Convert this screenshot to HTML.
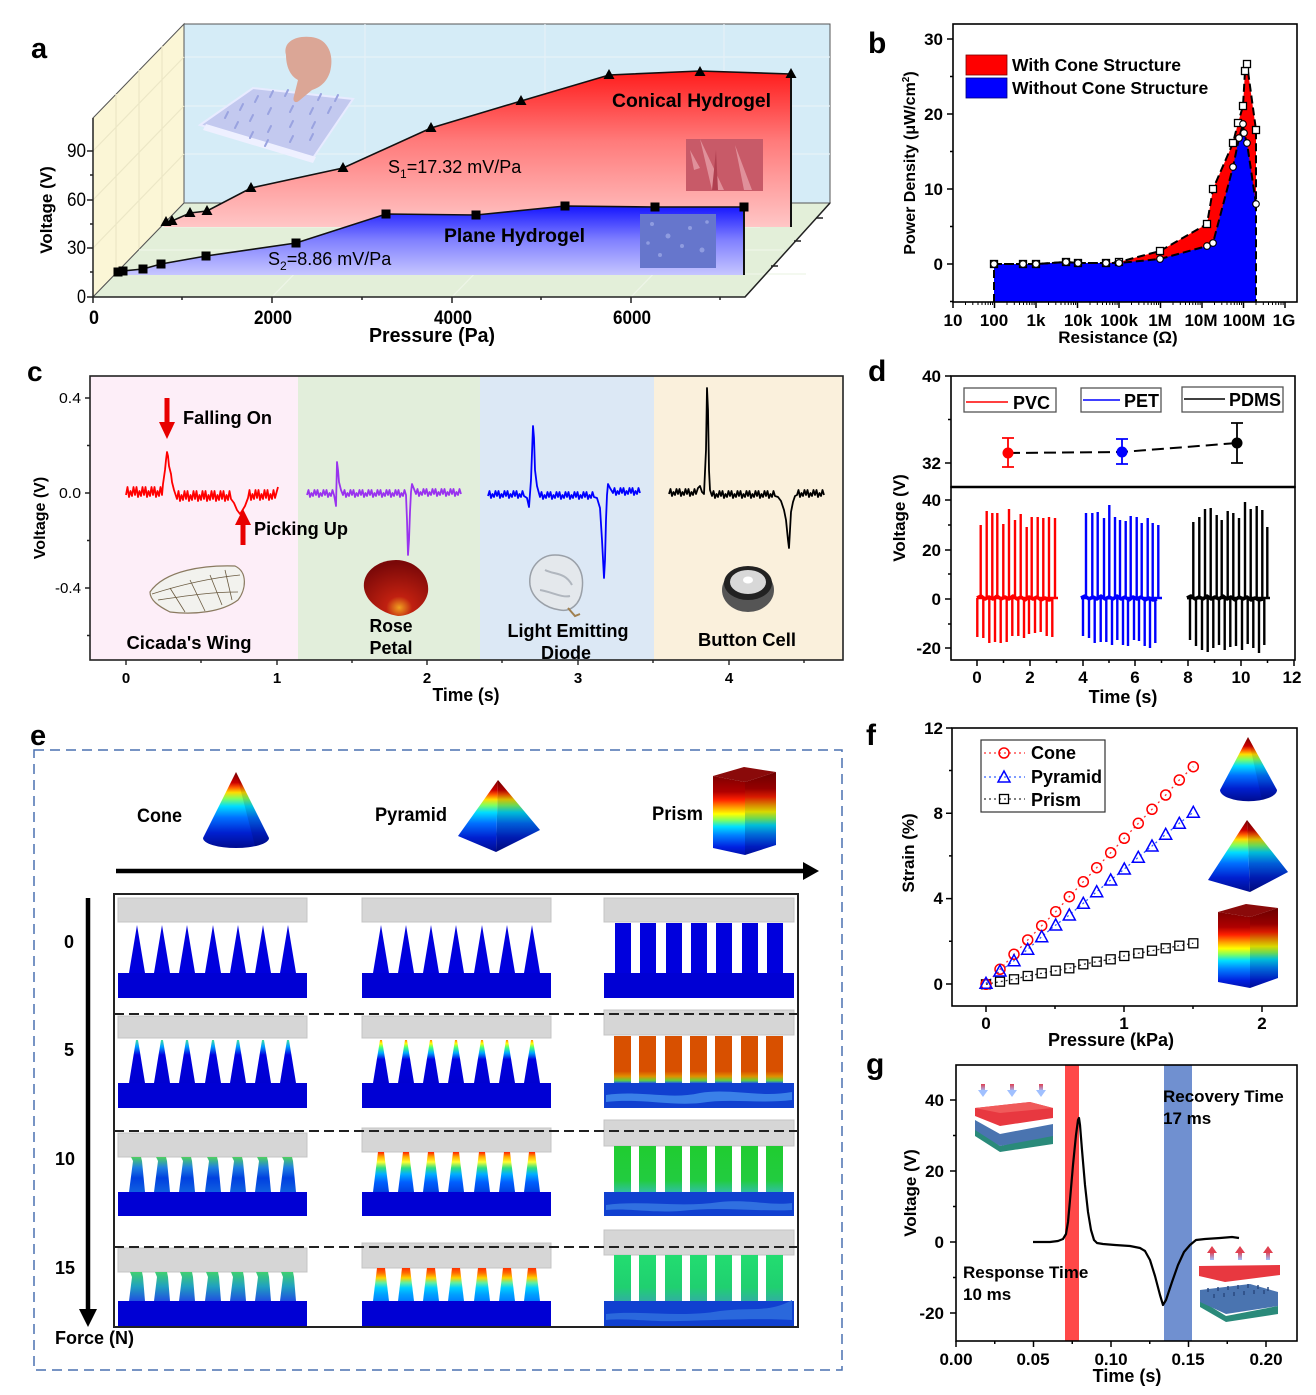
<!DOCTYPE html>
<html><head><meta charset="utf-8">
<style>
html,body{margin:0;padding:0;background:#fff;}
svg{display:block;font-family:"Liberation Sans",Arial,sans-serif;}
.b{font-weight:bold;}
</style></head>
<body>
<svg width="1316" height="1395" viewBox="0 0 1316 1395" xmlns="http://www.w3.org/2000/svg">
<defs>
  <linearGradient id="gRed" gradientUnits="userSpaceOnUse" x1="0" y1="70" x2="0" y2="227">
    <stop offset="0" stop-color="#ff1a1a"/><stop offset="0.45" stop-color="#ff7a7a"/><stop offset="1" stop-color="#ffc6c6"/>
  </linearGradient>
  <linearGradient id="gBlue" gradientUnits="userSpaceOnUse" x1="0" y1="205" x2="0" y2="275">
    <stop offset="0" stop-color="#1212ff"/><stop offset="0.5" stop-color="#8080ff"/><stop offset="1" stop-color="#c6c6ff"/>
  </linearGradient>
  <linearGradient id="gHeat" x1="0" y1="0" x2="0" y2="1">
    <stop offset="0" stop-color="#7a0000"/><stop offset="0.14" stop-color="#cc0000"/><stop offset="0.2" stop-color="#ff5500"/>
    <stop offset="0.27" stop-color="#ffdd00"/><stop offset="0.35" stop-color="#80ff60"/><stop offset="0.45" stop-color="#00ddff"/>
    <stop offset="0.6" stop-color="#0070ff"/><stop offset="0.8" stop-color="#0020d0"/><stop offset="1" stop-color="#000c90"/>
  </linearGradient>
  <linearGradient id="gPrism" x1="0" y1="0" x2="0" y2="1">
    <stop offset="0" stop-color="#800000"/><stop offset="0.2" stop-color="#b00000"/><stop offset="0.3" stop-color="#ff2000"/>
    <stop offset="0.4" stop-color="#ffa000"/><stop offset="0.48" stop-color="#ffff00"/><stop offset="0.56" stop-color="#80ff60"/>
    <stop offset="0.64" stop-color="#00e0ff"/><stop offset="0.75" stop-color="#0080ff"/><stop offset="0.9" stop-color="#0020e0"/><stop offset="1" stop-color="#0010b0"/>
  </linearGradient>
  <linearGradient id="gC5" x1="0" y1="0" x2="0" y2="1">
    <stop offset="0" stop-color="#40e0a0"/><stop offset="0.15" stop-color="#00a0ff"/><stop offset="0.35" stop-color="#0000e0"/><stop offset="1" stop-color="#0000d0"/>
  </linearGradient>
  <linearGradient id="gP5" x1="0" y1="0" x2="0" y2="1">
    <stop offset="0" stop-color="#ff8800"/><stop offset="0.08" stop-color="#ffff00"/><stop offset="0.18" stop-color="#40ff80"/>
    <stop offset="0.3" stop-color="#00aaff"/><stop offset="0.45" stop-color="#0000e0"/><stop offset="1" stop-color="#0000d0"/>
  </linearGradient>
  <linearGradient id="gP10" x1="0" y1="0" x2="0" y2="1">
    <stop offset="0" stop-color="#ff2000"/><stop offset="0.12" stop-color="#ffaa00"/><stop offset="0.25" stop-color="#ffff30"/>
    <stop offset="0.4" stop-color="#30e080"/><stop offset="0.55" stop-color="#00b0ff"/><stop offset="0.75" stop-color="#0060ff"/><stop offset="1" stop-color="#0040e0"/>
  </linearGradient>
  <linearGradient id="gP15" x1="0" y1="0" x2="0" y2="1">
    <stop offset="0" stop-color="#ff3000"/><stop offset="0.15" stop-color="#ff6a00"/><stop offset="0.3" stop-color="#ffd000"/>
    <stop offset="0.45" stop-color="#60f0a0"/><stop offset="0.6" stop-color="#00d0ff"/><stop offset="0.8" stop-color="#00a0ff"/><stop offset="1" stop-color="#0080ff"/>
  </linearGradient>
  <linearGradient id="gC10" x1="0" y1="0" x2="0" y2="1">
    <stop offset="0" stop-color="#50d060"/><stop offset="0.3" stop-color="#2080e0"/><stop offset="0.6" stop-color="#0040e0"/><stop offset="1" stop-color="#1060e0"/>
  </linearGradient>
  <linearGradient id="gC15" x1="0" y1="0" x2="0" y2="1">
    <stop offset="0" stop-color="#40d070"/><stop offset="0.5" stop-color="#20a0c0"/><stop offset="1" stop-color="#2050e0"/>
  </linearGradient>
  <linearGradient id="gR5" x1="0" y1="0" x2="0" y2="1">
    <stop offset="0" stop-color="#d85000"/><stop offset="0.75" stop-color="#d85000"/><stop offset="0.86" stop-color="#e09000"/><stop offset="0.95" stop-color="#60d040"/><stop offset="1" stop-color="#2060e0"/>
  </linearGradient>
  <linearGradient id="gR10" x1="0" y1="0" x2="0" y2="1">
    <stop offset="0" stop-color="#20cc30"/><stop offset="0.75" stop-color="#22cc40"/><stop offset="1" stop-color="#30c0a0"/>
  </linearGradient>
  <linearGradient id="gR15" x1="0" y1="0" x2="0" y2="1">
    <stop offset="0" stop-color="#22dd70"/><stop offset="0.7" stop-color="#20d070"/><stop offset="1" stop-color="#30b0a0"/>
  </linearGradient>
  <linearGradient id="gArrDn" x1="0" y1="0" x2="0" y2="1">
    <stop offset="0" stop-color="#e04050"/><stop offset="1" stop-color="#a0c0ff"/>
  </linearGradient>
  <linearGradient id="gArrUp" x1="0" y1="1" x2="0" y2="0">
    <stop offset="0" stop-color="#a0c0ff"/><stop offset="1" stop-color="#e04050"/>
  </linearGradient>
  <radialGradient id="gPetal" cx="0.55" cy="0.85" r="0.8">
    <stop offset="0" stop-color="#f0a020"/><stop offset="0.25" stop-color="#c02010"/><stop offset="1" stop-color="#7a0808"/>
  </radialGradient>
  <path id="tri" d="M0,-6 L5.5,4 L-5.5,4 Z" fill="#000"/>
  <rect id="sq" x="-4.5" y="-4.5" width="9" height="9" fill="#000"/>
  <rect id="wsq" x="-3.5" y="-3.5" width="7" height="7" fill="#fff" stroke="#000" stroke-width="1.3"/>
  <circle id="wci" r="3.3" fill="#fff" stroke="#000" stroke-width="1.1"/>
  <circle id="fci" r="5" fill="none" stroke="#ff0000" stroke-width="1.5"/>
  <path id="ftr" d="M0,-6 L6,5 L-6,5 Z" fill="none" stroke="#0000ff" stroke-width="1.5"/>
  <rect id="fsq" x="-4.5" y="-4.5" width="9" height="9" fill="none" stroke="#000" stroke-width="1.3"/>
  <path id="sp0" d="M-8,48 L0,0 L8,48 Z" fill="#0000dd"/>
  <rect id="pl0" x="0" y="0" width="16" height="50" fill="#0000dd"/>
  <path id="c5" d="M-8,43 L-1,0 L1,0 L8,43 Z" fill="url(#gC5)"/>
  <path id="p5" d="M-8,43 L-1,0 L1,0 L8,43 Z" fill="url(#gP5)"/>
  <rect id="r5" x="0" y="0" width="17" height="47" fill="url(#gR5)"/>
  <path id="c10" d="M-8,35 L-4,4 L-6,0 L4,0 L5,4 L8,35 Z" fill="url(#gC10)"/>
  <path id="p10" d="M-8,40 L-3,0 L3,0 L8,40 Z" fill="url(#gP10)"/>
  <rect id="r10" x="0" y="0" width="17" height="46" fill="url(#gR10)"/>
  <path id="c15" d="M-8,29 L-5,5 L-7,0 L5,0 L6,5 L8,29 Z" fill="url(#gC15)"/>
  <path id="p15" d="M-8,33 L-4,0 L4,0 L8,33 Z" fill="url(#gP15)"/>
  <rect id="r15" x="0" y="0" width="17" height="46" fill="url(#gR15)"/>
</defs>

<!-- ================= PANEL A ================= -->
<text x="31" y="58" font-size="29" class="b">a</text>
<rect x="184" y="24" width="646" height="179" fill="#d5ecf7" stroke="#555" stroke-width="1"/>
<g stroke="#e6f1f7" stroke-width="1.2">
  <path d="M365,24V203M545,24V203M724,24V203M184,57H830M184,106H830M184,154H830"/>
</g>
<polygon points="93,297 93,118 184,24 184,203" fill="#fbf6d6" stroke="#555" stroke-width="1"/>
<g stroke="#ece7c6" stroke-width="1.2" fill="none">
  <path d="M93,248L184,154M93,200L184,106M93,151L184,57M116,274V94M139,250V70M162,226V46"/>
</g>
<polygon points="93,297 184,203 830,203 745,297" fill="#e3efd9" stroke="#555" stroke-width="1"/>
<g stroke="#eef5e8" stroke-width="1.2" fill="none">
  <path d="M272,297L363,203M452,297L543,203M631,297L722,203M116,274H806M139,250H784M162,227H760"/>
</g>
<polygon points="200,125 253,88 353,99 313,158" fill="#c3c9ef" stroke="#e8ebff" stroke-width="2"/>
<polygon points="203,130 313,163 316,157 206,124" fill="#eef0ff"/>
<g stroke="#9aa3e0" stroke-width="2" stroke-linecap="round">
  <path d="M225,118l3,-6M240,110l3,-6M255,102l3,-6M270,97l3,-6M285,96l3,-6M300,98l3,-6M318,100l3,-6M335,101l3,-6M235,128l3,-6M250,121l3,-6M268,114l3,-6M290,112l3,-6M310,114l3,-6M328,113l3,-6M250,138l3,-6M268,132l3,-6M290,127l3,-6M312,128l3,-6M265,146l3,-6M290,142l3,-6M310,140l3,-6"/>
</g>
<path d="M286,55 C282,40 300,34 316,38 C330,42 334,58 330,72 C326,84 318,88 312,90 L300,100 C296,104 292,102 294,96 L298,80 C290,76 286,66 286,55 Z" fill="#dba696"/>
<polygon points="164,227 166,222 172,221 190,213 207,211 251,188 343,168 431,128 521,101 609,75 700,71 791,74 791,227" fill="url(#gRed)"/>
<line x1="791" y1="74" x2="791" y2="227" stroke="#111" stroke-width="2"/>
<polyline points="166,222 172,221 190,213 207,211 251,188 343,168 431,128 521,101 609,75 700,71 791,74" fill="none" stroke="#111" stroke-width="1.6"/>
<use href="#tri" x="166" y="222"/><use href="#tri" x="172" y="221"/><use href="#tri" x="190" y="213"/><use href="#tri" x="207" y="211"/>
<use href="#tri" x="251" y="188"/><use href="#tri" x="343" y="168"/><use href="#tri" x="431" y="128"/><use href="#tri" x="521" y="101"/>
<use href="#tri" x="609" y="75"/><use href="#tri" x="700" y="72"/><use href="#tri" x="791" y="74"/>
<rect x="686" y="139" width="77" height="52" fill="#c85a68"/>
<path d="M700,139 L712,190 L724,190 Z M735,145 L744,190 L752,190 Z M690,150 L694,170 L700,168 Z" fill="#e0909a"/>
<path d="M716,150 L718,190 L712,190 Z" fill="#b04050"/>
<polygon points="116,275 118,272 122,271 143,269 161,264 206,256 296,243 386,214 476,215 565,206 655,207 744,207 744,275" fill="url(#gBlue)"/>
<line x1="744" y1="207" x2="744" y2="275" stroke="#111" stroke-width="2"/>
<polyline points="118,272 122,271 143,269 161,264 206,256 296,243 386,214 476,215 565,206 655,207 744,207" fill="none" stroke="#111" stroke-width="1.6"/>
<use href="#sq" x="118" y="272"/><use href="#sq" x="123" y="271"/><use href="#sq" x="143" y="269"/><use href="#sq" x="161" y="264"/>
<use href="#sq" x="206" y="256"/><use href="#sq" x="296" y="243"/><use href="#sq" x="386" y="214"/><use href="#sq" x="476" y="215"/>
<use href="#sq" x="565" y="206"/><use href="#sq" x="655" y="207"/><use href="#sq" x="744" y="207"/>
<rect x="640" y="214" width="76" height="54" fill="#6676cc"/>
<g fill="#8f9ce0"><circle cx="652" cy="224" r="2"/><circle cx="668" cy="236" r="2.5"/><circle cx="690" cy="228" r="2"/><circle cx="702" cy="250" r="2.5"/><circle cx="660" cy="255" r="2"/><circle cx="682" cy="246" r="2"/><circle cx="707" cy="222" r="1.8"/><circle cx="648" cy="243" r="1.8"/></g>
<g stroke="#222" stroke-width="1.5" fill="none">
  <path d="M93,118V297H745L830,203M745,297"/>
  <path d="M93,297h-6M93,248h-6M93,200h-6M93,151h-6M93,272h-3M93,224h-3M93,175h-3"/>
  <path d="M93,297v6M272,297v6M452,297v6M631,297v6M182,297v3M362,297v3M541,297v3M720,297v3"/>
  <path d="M816,218h7M794,241h7M771,266h7"/>
</g>
<g font-size="19" text-anchor="end">
  <text x="86" y="303" textLength="9" lengthAdjust="spacingAndGlyphs">0</text>
  <text x="86" y="254" textLength="19" lengthAdjust="spacingAndGlyphs">30</text>
  <text x="86" y="206" textLength="19" lengthAdjust="spacingAndGlyphs">60</text>
  <text x="86" y="157" textLength="19" lengthAdjust="spacingAndGlyphs">90</text>
</g>
<g font-size="19" text-anchor="middle" class="b">
  <text x="94" y="324" textLength="10" lengthAdjust="spacingAndGlyphs">0</text>
  <text x="273" y="324" textLength="38" lengthAdjust="spacingAndGlyphs">2000</text>
  <text x="453" y="324" textLength="38" lengthAdjust="spacingAndGlyphs">4000</text>
  <text x="632" y="324" textLength="38" lengthAdjust="spacingAndGlyphs">6000</text>
</g>
<text x="432" y="342" font-size="20" class="b" text-anchor="middle" textLength="126" lengthAdjust="spacingAndGlyphs">Pressure (Pa)</text>
<text transform="translate(52,210) rotate(-90)" font-size="17" class="b" text-anchor="middle">Voltage (V)</text>
<text x="612" y="107" font-size="19" class="b" textLength="159" lengthAdjust="spacingAndGlyphs">Conical Hydrogel</text>
<text x="444" y="242" font-size="19" class="b" textLength="141" lengthAdjust="spacingAndGlyphs">Plane Hydrogel</text>
<text x="388" y="173" font-size="18">S<tspan font-size="12" dy="5">1</tspan><tspan dy="-5">=17.32 mV/Pa</tspan></text>
<text x="268" y="265" font-size="18">S<tspan font-size="12" dy="5">2</tspan><tspan dy="-5">=8.86 mV/Pa</tspan></text>

<!-- ================= PANEL B ================= -->
<text x="868" y="53" font-size="30" class="b">b</text>
<polygon points="994,302 994,264 1023,264 1036,264 1066,262 1078,263 1106,263 1119,262 1160,251 1207,224 1213,189 1233,143 1238,123 1243,106 1245,71 1247,64 1256,130 1256,302" fill="#ff0000"/>
<polygon points="994,302 994,264 1023,264 1036,264 1066,262 1078,263 1106,263 1119,263 1160,259 1207,246 1213,243 1233,167 1239,138 1243,124 1244,133 1247,143 1256,204 1256,302" fill="#0000ff"/>
<g fill="none" stroke="#000" stroke-width="2" stroke-dasharray="8,4">
  <polyline points="994,264 1023,264 1036,264 1066,262 1078,263 1106,263 1119,262 1160,251 1207,224 1213,189 1233,143 1238,123 1243,106 1245,71 1247,64 1256,130 1256,302"/>
  <polyline points="994,302 994,264 1023,264 1036,264 1066,262 1078,263 1106,263 1119,263 1160,259 1207,246 1213,243 1233,167 1239,138 1243,124 1244,133 1247,143 1256,204"/>
</g>
<use href="#wsq" x="994" y="264"/><use href="#wsq" x="1023" y="264"/><use href="#wsq" x="1036" y="264"/><use href="#wsq" x="1066" y="262"/>
<use href="#wsq" x="1078" y="263"/><use href="#wsq" x="1106" y="263"/><use href="#wsq" x="1119" y="262"/><use href="#wsq" x="1160" y="251"/>
<use href="#wsq" x="1207" y="224"/><use href="#wsq" x="1213" y="189"/><use href="#wsq" x="1233" y="143"/><use href="#wsq" x="1238" y="123"/>
<use href="#wsq" x="1243" y="106"/><use href="#wsq" x="1245" y="71"/><use href="#wsq" x="1247" y="64"/><use href="#wsq" x="1256" y="130"/>
<use href="#wci" x="994" y="264"/><use href="#wci" x="1023" y="264"/><use href="#wci" x="1036" y="264"/><use href="#wci" x="1066" y="262"/>
<use href="#wci" x="1078" y="263"/><use href="#wci" x="1106" y="263"/><use href="#wci" x="1119" y="263"/><use href="#wci" x="1160" y="259"/>
<use href="#wci" x="1207" y="246"/><use href="#wci" x="1213" y="243"/><use href="#wci" x="1233" y="167"/><use href="#wci" x="1239" y="138"/>
<use href="#wci" x="1243" y="124"/><use href="#wci" x="1244" y="133"/><use href="#wci" x="1247" y="143"/><use href="#wci" x="1256" y="204"/>
<rect x="953" y="24" width="344" height="278" fill="none" stroke="#000" stroke-width="1.6"/>
<g stroke="#000" stroke-width="1.5" fill="none">
  <path d="M953,264h-6M953,189h-6M953,114h-6M953,39h-6M953,301.5h-3M953,226.5h-3M953,151.5h-3M953,76.5h-3"/>
  <path d="M953,302v6M994.5,302v6M1036,302v6M1077.5,302v6M1119,302v6M1160.5,302v6M1202,302v6M1243.5,302v6M1285,302v6"/>
</g>
<path stroke="#000" stroke-width="1" d="M965.5,302v3M972.8,302v3M978,302v3M982,302v3M985.3,302v3M988.1,302v3M990.5,302v3M992.6,302v3M1007,302v3M1014.3,302v3M1019.5,302v3M1023.5,302v3M1026.8,302v3M1029.6,302v3M1032,302v3M1034.1,302v3M1048.5,302v3M1055.8,302v3M1061,302v3M1065,302v3M1068.3,302v3M1071.1,302v3M1073.5,302v3M1075.6,302v3M1090,302v3M1097.3,302v3M1102.5,302v3M1106.5,302v3M1109.8,302v3M1112.6,302v3M1115,302v3M1117.1,302v3M1131.5,302v3M1138.8,302v3M1144,302v3M1148,302v3M1151.3,302v3M1154.1,302v3M1156.5,302v3M1158.6,302v3M1173,302v3M1180.3,302v3M1185.5,302v3M1189.5,302v3M1192.8,302v3M1195.6,302v3M1198,302v3M1200.1,302v3M1214.5,302v3M1221.8,302v3M1227,302v3M1231,302v3M1234.3,302v3M1237.1,302v3M1239.5,302v3M1241.6,302v3M1256,302v3M1263.3,302v3M1268.5,302v3M1272.5,302v3M1275.8,302v3M1278.6,302v3M1281,302v3M1283.1,302v3"/>
<g font-size="17" class="b" text-anchor="end">
  <text x="943" y="45">30</text><text x="943" y="120">20</text><text x="943" y="195">10</text><text x="943" y="270">0</text>
</g>
<g font-size="17" class="b" text-anchor="middle">
  <text x="953" y="326">10</text><text x="994" y="326">100</text><text x="1036" y="326">1k</text><text x="1078" y="326">10k</text>
  <text x="1119" y="326">100k</text><text x="1160" y="326">1M</text><text x="1201" y="326">10M</text><text x="1244" y="326">100M</text><text x="1284" y="326">1G</text>
</g>
<text x="1118" y="343" font-size="17" class="b" text-anchor="middle">Resistance (Ω)</text>
<text transform="translate(915,163) rotate(-90)" font-size="16" class="b" text-anchor="middle">Power Density (μW/cm<tspan font-size="10" dy="-6">2</tspan><tspan dy="6">)</tspan></text>
<rect x="966" y="55" width="41" height="20" fill="#ff0000" stroke="#7a0000" stroke-width="0.8"/>
<rect x="966" y="78" width="41" height="20" fill="#0000ff" stroke="#00007a" stroke-width="0.8"/>
<text x="1012" y="71" font-size="17.5" class="b">With Cone Structure</text>
<text x="1012" y="94" font-size="17.5" class="b">Without Cone Structure</text>

<!-- ================= PANEL C ================= -->
<text x="27" y="381" font-size="28" class="b">c</text>
<rect x="90" y="376" width="208" height="284" fill="#fdeef8"/>
<rect x="298" y="376" width="182" height="284" fill="#e2eedb"/>
<rect x="480" y="376" width="174" height="284" fill="#dce8f5"/>
<rect x="654" y="376" width="189" height="284" fill="#faf0dc"/>
<rect x="90" y="376" width="753" height="284" fill="none" stroke="#222" stroke-width="1.6"/>
<g stroke="#222" stroke-width="1.4">
  <path d="M90,398h-5M90,493h-5M90,588h-5M90,445.5h-3M90,540.5h-3M90,635.5h-3"/>
  <path d="M126,660v5M277,660v5M427,660v5M578,660v5M729,660v5M201,660v3M352,660v3M502,660v3M653,660v3M804,660v3"/>
</g>
<g font-size="15" text-anchor="end">
  <text x="81" y="403" textLength="22" lengthAdjust="spacingAndGlyphs">0.4</text><text x="81" y="498" textLength="22" lengthAdjust="spacingAndGlyphs">0.0</text><text x="81" y="593" textLength="26" lengthAdjust="spacingAndGlyphs">-0.4</text>
</g>
<g font-size="15" class="b" text-anchor="middle">
  <text x="126" y="683">0</text><text x="277" y="683">1</text><text x="427" y="683">2</text><text x="578" y="683">3</text><text x="729" y="683">4</text>
</g>
<text x="466" y="701" font-size="18" class="b" text-anchor="middle" textLength="67" lengthAdjust="spacingAndGlyphs">Time (s)</text>
<text transform="translate(45,518) rotate(-90)" font-size="16" class="b" text-anchor="middle">Voltage (V)</text>
<g fill="none" stroke-width="1.8" stroke-linejoin="round">
<path stroke="#ff0000" d="M126,495 l1.5,-8 1.5,10 1.5,-6 1.5,5 1.5,-9 1.5,8 1.5,-8 1.5,10 1.5,-6 1.5,5 1.5,-9 1.5,8 1.5,-8 1.5,10 1.5,-6 1.5,5 1.5,-9 1.5,8 1.5,-8 1.5,10 1.5,-6 1.5,5 1.5,-9 1.5,8 L163,484 165,470 166,460 167,452 168,456 169,466 171,474 172,482 174,490 177,499 l1.5,-8 1.5,10 1.5,-6 1.5,5 1.5,-9 1.5,8 1.5,-8 1.5,10 1.5,-6 1.5,5 1.5,-9 1.5,8 1.5,-8 1.5,10 1.5,-6 1.5,5 1.5,-9 1.5,8 1.5,-8 1.5,10 1.5,-6 1.5,5 1.5,-9 1.5,8 1.5,-8 1.5,10 1.5,-6 1.5,5 1.5,-9 1.5,8 1.5,-8 1.5,10 1.5,-6 1.5,5 1.5,-9 1.5,8 L234,503 237,510 240,514 242,511 245,506 248,498 l1.5,-8 1.5,10 1.5,-6 1.5,5 1.5,-9 1.5,8 1.5,-8 1.5,10 1.5,-6 1.5,5 1.5,-9 1.5,8 1.5,-8 1.5,10 1.5,-6 1.5,5 1.5,-9 1.5,8 L278,487"/>
<path stroke="#9933ee" d="M307,495 l1.5,-5 1.5,7 1.5,-4 1.5,3 1.5,-6 1.5,5 1.5,-5 1.5,7 1.5,-4 1.5,3 1.5,-6 1.5,5 1.5,-5 1.5,7 1.5,-4 1.5,3 1.5,-6 1.5,5 L335,500 336,506 337,462 338,470 339,482 341,490 343,495 l1.5,-5 1.5,7 1.5,-4 1.5,3 1.5,-6 1.5,5 1.5,-5 1.5,7 1.5,-4 1.5,3 1.5,-6 1.5,5 1.5,-5 1.5,7 1.5,-4 1.5,3 1.5,-6 1.5,5 1.5,-5 1.5,7 1.5,-4 1.5,3 1.5,-6 1.5,5 1.5,-5 1.5,7 1.5,-4 1.5,3 1.5,-6 1.5,5 1.5,-5 1.5,7 1.5,-4 1.5,3 1.5,-6 1.5,5 1.5,-5 1.5,7 1.5,-4 1.5,3 1.5,-6 1.5,5 L407,520 408,555 409,540 410,512 411,492 412,484 414,489 416,494 l1.5,-5 1.5,7 1.5,-4 1.5,3 1.5,-6 1.5,5 1.5,-5 1.5,7 1.5,-4 1.5,3 1.5,-6 1.5,5 1.5,-5 1.5,7 1.5,-4 1.5,3 1.5,-6 1.5,5 1.5,-5 1.5,7 1.5,-4 1.5,3 1.5,-6 1.5,5 1.5,-5 1.5,7 1.5,-4 1.5,3 1.5,-6 1.5,5"/>
<path stroke="#0000ff" d="M488,496 l1.5,-5 1.5,7 1.5,-4 1.5,3 1.5,-6 1.5,5 1.5,-5 1.5,7 1.5,-4 1.5,3 1.5,-6 1.5,5 1.5,-5 1.5,7 1.5,-4 1.5,3 1.5,-6 1.5,5 1.5,-5 1.5,7 1.5,-4 1.5,3 1.5,-6 1.5,5 L527,498 529,507 531,480 533,426 534,438 535,470 537,486 540,497 l1.5,-5 1.5,7 1.5,-4 1.5,3 1.5,-6 1.5,5 1.5,-5 1.5,7 1.5,-4 1.5,3 1.5,-6 1.5,5 1.5,-5 1.5,7 1.5,-4 1.5,3 1.5,-6 1.5,5 1.5,-5 1.5,7 1.5,-4 1.5,3 1.5,-6 1.5,5 1.5,-5 1.5,7 1.5,-4 1.5,3 1.5,-6 1.5,5 1.5,-5 1.5,7 1.5,-4 1.5,3 1.5,-6 1.5,5 L597,498 600,508 602,540 604,578 605,560 606,520 607,495 608,484 610,488 613,493 l1.5,-5 1.5,7 1.5,-4 1.5,3 1.5,-6 1.5,5 1.5,-5 1.5,7 1.5,-4 1.5,3 1.5,-6 1.5,5 1.5,-5 1.5,7 1.5,-4 1.5,3 1.5,-6 1.5,5"/>
<path stroke="#000000" d="M669,494 l1.5,-5 1.5,7 1.5,-4 1.5,3 1.5,-6 1.5,5 1.5,-5 1.5,7 1.5,-4 1.5,3 1.5,-6 1.5,5 1.5,-5 1.5,7 1.5,-4 1.5,3 1.5,-6 1.5,5 L698,488 700,486 702,492 704,494 706,450 707,388 708,410 709,470 710,490 712,496 l1.5,-5 1.5,7 1.5,-4 1.5,3 1.5,-6 1.5,5 1.5,-5 1.5,7 1.5,-4 1.5,3 1.5,-6 1.5,5 1.5,-5 1.5,7 1.5,-4 1.5,3 1.5,-6 1.5,5 1.5,-5 1.5,7 1.5,-4 1.5,3 1.5,-6 1.5,5 1.5,-5 1.5,7 1.5,-4 1.5,3 1.5,-6 1.5,5 1.5,-5 1.5,7 1.5,-4 1.5,3 1.5,-6 1.5,5 1.5,-5 1.5,7 1.5,-4 1.5,3 1.5,-6 1.5,5 L778,497 781,501 784,510 786,520 788,540 789,548 790,530 791,512 793,502 795,496 797,495 l1.5,-5 1.5,7 1.5,-4 1.5,3 1.5,-6 1.5,5 1.5,-5 1.5,7 1.5,-4 1.5,3 1.5,-6 1.5,5 1.5,-5 1.5,7 1.5,-4 1.5,3 1.5,-6 1.5,5"/>
</g>
<rect x="164.5" y="398" width="5" height="26" fill="#e80000"/>
<polygon points="159,422 175,422 167,439" fill="#e80000"/>
<rect x="240.5" y="523" width="5" height="22" fill="#e80000"/>
<polygon points="235,525 251,525 243,509" fill="#e80000"/>
<text x="183" y="424" font-size="18" class="b" textLength="89" lengthAdjust="spacingAndGlyphs">Falling On</text>
<text x="254" y="535" font-size="18" class="b" textLength="94" lengthAdjust="spacingAndGlyphs">Picking Up</text>
<path d="M150,592 C165,570 205,565 235,566 C248,572 246,590 238,600 C222,612 195,615 170,612 C158,606 150,600 150,592 Z" fill="#f2f2ee" stroke="#8a7a60" stroke-width="1.2"/>
<g stroke="#6a5a40" stroke-width="0.8" fill="none"><path d="M152,594 C180,585 210,578 240,575M158,600 C185,596 210,592 238,592M170,588 L185,612M190,580 L205,611M210,575 L222,605M225,570 L232,600"/></g>
<path d="M396,560 C415,560 430,575 428,592 C426,605 412,616 398,616 C384,614 366,603 364,588 C362,572 378,560 396,560 Z" fill="url(#gPetal)"/>
<path d="M555,555 C575,555 585,570 582,590 C580,605 570,612 560,610 C545,608 532,598 530,585 C528,568 540,555 555,555 Z" fill="#e4e8ec" stroke="#9aa0a8" stroke-width="1.5"/>
<path d="M545,570 C555,575 565,572 572,585 M540,590 C552,592 562,598 570,596" stroke="#b0b6be" stroke-width="2" fill="none"/>
<path d="M568,608 L575,616 L580,614" stroke="#a08050" stroke-width="2" fill="none"/>
<ellipse cx="748" cy="590" rx="26" ry="22" fill="#555"/>
<ellipse cx="748" cy="583" rx="24" ry="17" fill="#222"/>
<ellipse cx="748" cy="582" rx="18" ry="12" fill="#d8d8d8"/>
<ellipse cx="748" cy="580" rx="5" ry="3.5" fill="#fff"/>
<g font-size="18" class="b" text-anchor="middle">
  <text x="189" y="649" textLength="125" lengthAdjust="spacingAndGlyphs">Cicada's Wing</text>
  <text x="391" y="632" textLength="43" lengthAdjust="spacingAndGlyphs">Rose</text>
  <text x="391" y="654" textLength="43" lengthAdjust="spacingAndGlyphs">Petal</text>
  <text x="568" y="637" textLength="121" lengthAdjust="spacingAndGlyphs">Light Emitting</text>
  <text x="566" y="659" textLength="50" lengthAdjust="spacingAndGlyphs">Diode</text>
  <text x="747" y="646" textLength="98" lengthAdjust="spacingAndGlyphs">Button Cell</text>
</g>

<!-- ================= PANEL D ================= -->
<text x="868" y="381" font-size="30" class="b">d</text>
<rect x="951" y="376" width="344" height="111" fill="none" stroke="#000" stroke-width="1.6"/>
<rect x="951" y="487" width="344" height="173" fill="none" stroke="#000" stroke-width="1.6"/>
<line x1="951" y1="487" x2="1295" y2="487" stroke="#000" stroke-width="2.5"/>
<g stroke="#000" stroke-width="1.5">
  <path d="M951,376h-6M951,463h-6M951,419.5h-3"/>
  <path d="M951,500h-6M951,550h-6M951,599h-6M951,648h-6M951,525h-3M951,574h-3M951,624h-3"/>
  <path d="M977,660v6M1030,660v6M1083,660v6M1135,660v6M1188,660v6M1241,660v6M1294,660v6M1003.5,660v3M1056.5,660v3M1109,660v3M1161.5,660v3M1214.5,660v3M1267.5,660v3"/>
</g>
<g font-size="17" class="b" text-anchor="end">
  <text x="941" y="382">40</text><text x="941" y="469">32</text>
  <text x="941" y="506">40</text><text x="941" y="556">20</text><text x="941" y="605">0</text><text x="941" y="654">-20</text>
</g>
<g font-size="17" class="b" text-anchor="middle">
  <text x="977" y="683">0</text><text x="1030" y="683">2</text><text x="1083" y="683">4</text><text x="1135" y="683">6</text>
  <text x="1188" y="683">8</text><text x="1241" y="683">10</text><text x="1292" y="683">12</text>
</g>
<text x="1123" y="703" font-size="18" class="b" text-anchor="middle">Time (s)</text>
<text transform="translate(905,518) rotate(-90)" font-size="17" class="b" text-anchor="middle">Voltage (V)</text>
<rect x="964" y="388" width="92" height="24" fill="#fff" stroke="#555" stroke-width="1.3"/>
<line x1="966" y1="402" x2="1008" y2="402" stroke="#ff0000" stroke-width="1.5"/>
<text x="1013" y="409" font-size="18" class="b">PVC</text>
<rect x="1081" y="388" width="80" height="24" fill="#fff" stroke="#555" stroke-width="1.3"/>
<line x1="1083" y1="400" x2="1120" y2="400" stroke="#0000ff" stroke-width="1.5"/>
<text x="1124" y="407" font-size="18" class="b">PET</text>
<rect x="1182" y="387" width="101" height="25" fill="#fff" stroke="#555" stroke-width="1.3"/>
<line x1="1184" y1="399" x2="1225" y2="399" stroke="#000" stroke-width="1.5"/>
<text x="1229" y="406" font-size="18" class="b">PDMS</text>
<polyline points="1008,453 1122,452 1237,443" fill="none" stroke="#000" stroke-width="2" stroke-dasharray="12,6"/>
<g stroke-width="1.8" fill="none">
  <path stroke="#ff0000" d="M1008,438V467M1002,438h12M1002,467h12"/>
  <path stroke="#0000ff" d="M1122,439V464M1116,439h12M1116,464h12"/>
  <path stroke="#000" d="M1237,423V463M1231,423h12M1231,463h12"/>
</g>
<circle cx="1008" cy="453" r="5.5" fill="#ff0000"/>
<circle cx="1122" cy="452" r="5.5" fill="#0000ff"/>
<circle cx="1237" cy="443" r="5.5" fill="#000"/>
<g fill="none" stroke-width="2.4">
<path stroke="#ff0000" d="M977,598H1058M980.7,598V525M986.7,598V511M992.3,598V513M997.3,598V513M1003.3,598V524M1009,598V509M1015,598V520M1020.7,598V514M1026.7,598V527M1031.7,598V517M1037.7,598V517M1043.3,598V518M1049,598V517M1055,598V518M977.3,598V637M983.3,598V638M989.3,598V643M995,598V642M1000.7,598V643M1006.7,598V642M1012.3,598V636M1018.3,598V636M1024,598V638M1029,598V634M1035,598V633M1040.7,598V632M1046.7,598V636M1052.3,598V637"/>
<path stroke="#0000ff" d="M1081,598H1162M1086,598V513M1092.3,598V513M1097.7,598V512M1104,598V518M1109.3,598V505M1115,598V517M1120,598V520M1125.7,598V521M1130.7,598V516M1136.7,598V517M1141.7,598V523M1147.7,598V518M1152.7,598V523M1158.3,598V525M1083,598V636M1089,598V638M1094.7,598V643M1100.7,598V642M1106.3,598V642M1112,598V645M1117.3,598V640M1123,598V645M1128,598V646M1134,598V640M1139,598V641M1144.7,598V646M1150,598V648M1155.3,598V643"/>
<path stroke="#000" d="M1187,598H1270M1193.3,598V522M1199.3,598V517M1205,598V509M1210.7,598V508M1216.7,598V515M1221.7,598V520M1227.7,598V511M1233.3,598V513M1239,598V518M1245,598V502M1250.7,598V509M1256.7,598V506M1262.3,598V510M1267.3,598V527M1190,598V640M1196,598V646M1202,598V650M1207.7,598V652M1213.3,598V648M1219,598V645M1224.7,598V650M1230.3,598V647M1236,598V646M1242,598V650M1247.7,598V644M1253.3,598V648M1259,598V653M1264.3,598V645"/>
</g>
<g fill="none" stroke-width="3.5" stroke-linejoin="round">
  <path stroke="#ff0000" d="M977,598 l4,-2 4,3 4,-2 4,2 4,-3 4,3 4,-2 4,2 4,-3 4,3 4,-2 4,3 4,-3 4,2 4,-2 4,3 4,-2 4,2 4,-1"/>
  <path stroke="#0000ff" d="M1081,598 l4,-2 4,3 4,-2 4,2 4,-3 4,3 4,-2 4,2 4,-3 4,3 4,-2 4,3 4,-3 4,2 4,-2 4,3 4,-2 4,2 4,-1"/>
  <path stroke="#000" d="M1187,598 l4,-2 4,3 4,-2 4,2 4,-3 4,3 4,-2 4,2 4,-3 4,3 4,-2 4,3 4,-3 4,2 4,-2 4,3 4,-2 4,2 4,-1"/>
</g>

<!-- ================= PANEL E ================= -->
<text x="30" y="745" font-size="29" class="b">e</text>
<rect x="34" y="750" width="808" height="620" fill="none" stroke="#4a70b0" stroke-width="1.5" stroke-dasharray="10,6"/>
<text x="137" y="822" font-size="19" class="b" textLength="45" lengthAdjust="spacingAndGlyphs">Cone</text>
<text x="375" y="821" font-size="19" class="b" textLength="72" lengthAdjust="spacingAndGlyphs">Pyramid</text>
<text x="652" y="820" font-size="19" class="b" textLength="51" lengthAdjust="spacingAndGlyphs">Prism</text>
<path d="M236,772 L203,838 A33,10 0 0 0 269,838 Z" fill="url(#gHeat)"/>
<path d="M236,772 L255,846 A33,10 0 0 0 269,838 Z" fill="#000" opacity="0.12"/>
<path d="M498,780 L458,836 L496,852 Z" fill="url(#gHeat)"/>
<path d="M498,780 L496,852 L540,830 Z" fill="url(#gHeat)"/>
<path d="M498,780 L496,852 L540,830 Z" fill="#000" opacity="0.15"/>
<path d="M713,776 L745,782 L745,855 L713,848 Z" fill="url(#gPrism)"/>
<path d="M745,782 L776,772 L776,845 L745,855 Z" fill="url(#gPrism)"/>
<path d="M745,782 L776,772 L776,845 L745,855 Z" fill="#000" opacity="0.15"/>
<path d="M713,776 L745,782 L776,772 L744,767 Z" fill="#8a0a0a"/>
<line x1="116" y1="871" x2="806" y2="871" stroke="#000" stroke-width="4.5"/>
<polygon points="803,862 819,871 803,880" fill="#000"/>
<line x1="88" y1="898" x2="88" y2="1312" stroke="#000" stroke-width="4.5"/>
<polygon points="79,1309 88,1327 97,1309" fill="#000"/>
<rect x="114" y="894" width="684" height="433" fill="#fff" stroke="#222" stroke-width="2"/>
<g fill="#d6d6d6" stroke="#c4c4c4" stroke-width="1">
  <rect x="118" y="898" width="189" height="24"/><rect x="362" y="898" width="189" height="24"/><rect x="604" y="898" width="190" height="24"/>
</g>
<g fill="#0000d4">
  <rect x="118" y="973" width="189" height="25"/><rect x="362" y="973" width="189" height="25"/><rect x="604" y="973" width="190" height="25"/>
</g>
<g transform="translate(0,925)">
  <use href="#sp0" x="137"/><use href="#sp0" x="162"/><use href="#sp0" x="187"/><use href="#sp0" x="213"/><use href="#sp0" x="238"/><use href="#sp0" x="263"/><use href="#sp0" x="288"/>
  <use href="#sp0" x="381"/><use href="#sp0" x="406"/><use href="#sp0" x="431"/><use href="#sp0" x="456"/><use href="#sp0" x="482"/><use href="#sp0" x="507"/><use href="#sp0" x="532"/>
</g>
<g transform="translate(0,923)">
  <use href="#pl0" x="615"/><use href="#pl0" x="640"/><use href="#pl0" x="666"/><use href="#pl0" x="691"/><use href="#pl0" x="716"/><use href="#pl0" x="742"/><use href="#pl0" x="767"/>
</g>
<g fill="#d6d6d6" stroke="#c4c4c4" stroke-width="1">
  <rect x="118" y="1016" width="189" height="22"/><rect x="362" y="1016" width="189" height="22"/><rect x="604" y="1010" width="190" height="25"/>
</g>
<g fill="#0000d4">
  <rect x="118" y="1083" width="189" height="25"/><rect x="362" y="1083" width="189" height="25"/>
</g>
<rect x="604" y="1083" width="190" height="25" fill="#1040d0"/>
<path d="M606,1095 C640,1090 670,1100 700,1093 C730,1088 760,1098 792,1092 L792,1100 C760,1104 730,1098 700,1103 C670,1106 640,1098 606,1102 Z" fill="#3a80e8"/>
<g transform="translate(0,1040)">
  <use href="#c5" x="137"/><use href="#c5" x="162"/><use href="#c5" x="187"/><use href="#c5" x="213"/><use href="#c5" x="238"/><use href="#c5" x="263"/><use href="#c5" x="288"/>
  <use href="#p5" x="381"/><use href="#p5" x="406"/><use href="#p5" x="431"/><use href="#p5" x="456"/><use href="#p5" x="482"/><use href="#p5" x="507"/><use href="#p5" x="532"/>
</g>
<g transform="translate(0,1036)">
  <use href="#r5" x="614"/><use href="#r5" x="639"/><use href="#r5" x="665"/><use href="#r5" x="690"/><use href="#r5" x="715"/><use href="#r5" x="741"/><use href="#r5" x="766"/>
</g>
<g fill="#d6d6d6" stroke="#c4c4c4" stroke-width="1">
  <rect x="118" y="1133" width="189" height="24"/><rect x="362" y="1128" width="189" height="24"/><rect x="604" y="1120" width="190" height="26"/>
</g>
<g fill="#0000d4">
  <rect x="118" y="1192" width="189" height="24"/><rect x="362" y="1192" width="189" height="24"/>
</g>
<rect x="604" y="1192" width="190" height="24" fill="#1040d0"/>
<path d="M606,1205 C640,1200 680,1208 720,1202 C750,1199 770,1206 792,1203 L792,1210 C760,1212 720,1206 680,1211 C650,1213 630,1208 606,1210 Z" fill="#3070e0"/>
<g transform="translate(0,1157)">
  <use href="#c10" x="137"/><use href="#c10" x="162"/><use href="#c10" x="187"/><use href="#c10" x="213"/><use href="#c10" x="238"/><use href="#c10" x="263"/><use href="#c10" x="288"/>
</g>
<g transform="translate(0,1152)">
  <use href="#p10" x="381"/><use href="#p10" x="406"/><use href="#p10" x="431"/><use href="#p10" x="456"/><use href="#p10" x="482"/><use href="#p10" x="507"/><use href="#p10" x="532"/>
</g>
<g transform="translate(0,1146)">
  <use href="#r10" x="614"/><use href="#r10" x="639"/><use href="#r10" x="665"/><use href="#r10" x="690"/><use href="#r10" x="715"/><use href="#r10" x="741"/><use href="#r10" x="766"/>
</g>
<g fill="#d6d6d6" stroke="#c4c4c4" stroke-width="1">
  <rect x="118" y="1248" width="189" height="24"/><rect x="362" y="1243" width="189" height="25"/><rect x="604" y="1230" width="190" height="25"/>
</g>
<g fill="#0000d4">
  <rect x="118" y="1301" width="189" height="25"/><rect x="362" y="1301" width="189" height="25"/>
</g>
<rect x="604" y="1301" width="190" height="25" fill="#1040d0"/>
<path d="M606,1314 C640,1310 680,1318 720,1311 C750,1307 770,1313 792,1300 L792,1320 C760,1318 720,1320 680,1321 C650,1322 630,1318 606,1320 Z" fill="#2a68dc"/>
<g transform="translate(0,1272)">
  <use href="#c15" x="137"/><use href="#c15" x="162"/><use href="#c15" x="187"/><use href="#c15" x="213"/><use href="#c15" x="238"/><use href="#c15" x="263"/><use href="#c15" x="288"/>
</g>
<g transform="translate(0,1268)">
  <use href="#p15" x="381"/><use href="#p15" x="406"/><use href="#p15" x="431"/><use href="#p15" x="456"/><use href="#p15" x="482"/><use href="#p15" x="507"/><use href="#p15" x="532"/>
</g>
<g transform="translate(0,1255)">
  <use href="#r15" x="614"/><use href="#r15" x="639"/><use href="#r15" x="665"/><use href="#r15" x="690"/><use href="#r15" x="715"/><use href="#r15" x="741"/><use href="#r15" x="766"/>
</g>
<g stroke="#222" stroke-width="2" stroke-dasharray="10,5">
  <line x1="114" y1="1014" x2="798" y2="1014"/><line x1="114" y1="1131" x2="798" y2="1131"/><line x1="114" y1="1247" x2="798" y2="1247"/>
</g>
<g font-size="18" class="b" text-anchor="middle">
  <text x="69" y="948">0</text><text x="69" y="1056">5</text><text x="65" y="1165" textLength="20" lengthAdjust="spacingAndGlyphs">10</text><text x="65" y="1274" textLength="20" lengthAdjust="spacingAndGlyphs">15</text>
</g>
<text x="55" y="1344" font-size="18" class="b" textLength="79" lengthAdjust="spacingAndGlyphs">Force (N)</text>

<!-- ================= PANEL F ================= -->
<text x="866" y="745" font-size="30" class="b">f</text>
<rect x="952" y="728" width="345" height="278" fill="none" stroke="#000" stroke-width="1.6"/>
<g stroke="#000" stroke-width="1.5">
  <path d="M952,984h-6M952,898.6h-6M952,813.2h-6M952,728h-6M952,941.3h-3M952,855.9h-3M952,770.5h-3"/>
  <path d="M986,1006v6M1124,1006v6M1262,1006v6M1055,1006v3M1193,1006v3"/>
</g>
<g font-size="17" class="b" text-anchor="end">
  <text x="943" y="734">12</text><text x="943" y="819">8</text><text x="943" y="904">4</text><text x="943" y="990">0</text>
</g>
<g font-size="17" class="b" text-anchor="middle">
  <text x="986" y="1029">0</text><text x="1124" y="1029">1</text><text x="1262" y="1029">2</text>
</g>
<text x="1111" y="1046" font-size="18" class="b" text-anchor="middle">Pressure (kPa)</text>
<text transform="translate(914,853) rotate(-90)" font-size="17" class="b" text-anchor="middle">Strain (%)</text>
<g fill="none" stroke-width="1.3" stroke-dasharray="2,3">
  <polyline stroke="#ff3030" points="986,984.3 1000,969.3 1014,954.3 1027.7,940 1041.7,925.7 1055.7,911.7 1069.3,896.7 1083.3,881.7 1096.7,867.7 1110.7,852.7 1124.3,838.3 1138.3,823.3 1152,809.3 1165.7,795 1179.3,780 1193.3,766.7"/>
  <polyline stroke="#3060ff" points="986,983.3 1000,971 1014,960.7 1027.7,949.3 1041.7,936.7 1055.7,925 1069.3,915 1083.3,903.3 1096.7,891.7 1110.7,880 1124.3,869 1138.3,857.3 1152,846 1165.7,834.3 1179.3,823.3 1193.3,812.3"/>
  <polyline stroke="#333" points="986,984.3 1000,981.7 1014,979.3 1027.7,976 1041.7,973.3 1055.7,970.7 1069.3,968.3 1083.3,964.3 1096.7,961.7 1110.7,959.3 1124.3,956 1138.3,953.3 1152,950.7 1165.7,948.3 1179.3,945.7 1193.3,943.3"/>
</g>
<use href="#fsq" x="986" y="984.3"/><use href="#fsq" x="1000" y="981.7"/><use href="#fsq" x="1014" y="979.3"/><use href="#fsq" x="1027.7" y="976"/>
<use href="#fsq" x="1041.7" y="973.3"/><use href="#fsq" x="1055.7" y="970.7"/><use href="#fsq" x="1069.3" y="968.3"/><use href="#fsq" x="1083.3" y="964.3"/>
<use href="#fsq" x="1096.7" y="961.7"/><use href="#fsq" x="1110.7" y="959.3"/><use href="#fsq" x="1124.3" y="956"/><use href="#fsq" x="1138.3" y="953.3"/>
<use href="#fsq" x="1152" y="950.7"/><use href="#fsq" x="1165.7" y="948.3"/><use href="#fsq" x="1179.3" y="945.7"/><use href="#fsq" x="1193.3" y="943.3"/>
<use href="#fci" x="986" y="984.3"/><use href="#fci" x="1000" y="969.3"/><use href="#fci" x="1014" y="954.3"/><use href="#fci" x="1027.7" y="940"/>
<use href="#fci" x="1041.7" y="925.7"/><use href="#fci" x="1055.7" y="911.7"/><use href="#fci" x="1069.3" y="896.7"/><use href="#fci" x="1083.3" y="881.7"/>
<use href="#fci" x="1096.7" y="867.7"/><use href="#fci" x="1110.7" y="852.7"/><use href="#fci" x="1124.3" y="838.3"/><use href="#fci" x="1138.3" y="823.3"/>
<use href="#fci" x="1152" y="809.3"/><use href="#fci" x="1165.7" y="795"/><use href="#fci" x="1179.3" y="780"/><use href="#fci" x="1193.3" y="766.7"/>
<use href="#ftr" x="986" y="983.3"/><use href="#ftr" x="1000" y="971"/><use href="#ftr" x="1014" y="960.7"/><use href="#ftr" x="1027.7" y="949.3"/>
<use href="#ftr" x="1041.7" y="936.7"/><use href="#ftr" x="1055.7" y="925"/><use href="#ftr" x="1069.3" y="915"/><use href="#ftr" x="1083.3" y="903.3"/>
<use href="#ftr" x="1096.7" y="891.7"/><use href="#ftr" x="1110.7" y="880"/><use href="#ftr" x="1124.3" y="869"/><use href="#ftr" x="1138.3" y="857.3"/>
<use href="#ftr" x="1152" y="846"/><use href="#ftr" x="1165.7" y="834.3"/><use href="#ftr" x="1179.3" y="823.3"/><use href="#ftr" x="1193.3" y="812.3"/>
<rect x="981" y="740" width="124" height="72" fill="#fff" stroke="#333" stroke-width="1.2"/>
<g stroke-width="1.3" stroke-dasharray="2,3">
  <line x1="984" y1="753" x2="1025" y2="753" stroke="#ff3030"/>
  <line x1="984" y1="777" x2="1025" y2="777" stroke="#3060ff"/>
  <line x1="984" y1="799" x2="1025" y2="799" stroke="#333"/>
</g>
<use href="#fci" x="1004" y="753"/><use href="#ftr" x="1004" y="777"/><use href="#fsq" x="1004" y="799"/>
<g font-size="18" class="b">
  <text x="1031" y="759">Cone</text><text x="1031" y="783">Pyramid</text><text x="1031" y="806">Prism</text>
</g>
<path d="M1248,737 L1220,790 A28,11 0 0 0 1277,790 Z" fill="url(#gHeat)"/>
<path d="M1248,737 L1262,800 A28,11 0 0 0 1277,790 Z" fill="#000" opacity="0.1"/>
<path d="M1247,820 L1208,880 L1250,892 Z" fill="url(#gHeat)"/>
<path d="M1247,820 L1250,892 L1288,872 Z" fill="url(#gHeat)"/>
<path d="M1247,820 L1250,892 L1288,872 Z" fill="#000" opacity="0.15"/>
<path d="M1218,912 L1250,917 L1250,988 L1218,982 Z" fill="url(#gPrism)"/>
<path d="M1250,917 L1278,908 L1278,978 L1250,988 Z" fill="url(#gPrism)"/>
<path d="M1250,917 L1278,908 L1278,978 L1250,988 Z" fill="#000" opacity="0.15"/>
<path d="M1218,912 L1250,917 L1278,908 L1246,904 Z" fill="#8a0a0a"/>

<!-- ================= PANEL G ================= -->
<text x="866" y="1074" font-size="30" class="b">g</text>
<rect x="1065" y="1065" width="14" height="276" fill="#ff4848"/>
<rect x="1164" y="1065" width="28" height="276" fill="#7090d0"/>
<rect x="956" y="1065" width="341" height="276" fill="none" stroke="#000" stroke-width="1.6"/>
<g stroke="#000" stroke-width="1.5">
  <path d="M956,1100h-6M956,1171h-6M956,1242h-6M956,1313h-6M956,1135.5h-3M956,1206.5h-3M956,1277.5h-3"/>
  <path d="M956,1341v6M1033.5,1341v6M1111,1341v6M1188.5,1341v6M1266,1341v6M994.75,1341v3M1072.25,1341v3M1149.75,1341v3M1227.25,1341v3"/>
</g>
<g font-size="17" class="b" text-anchor="end">
  <text x="944" y="1106">40</text><text x="944" y="1177">20</text><text x="944" y="1248">0</text><text x="944" y="1319">-20</text>
</g>
<g font-size="17" class="b" text-anchor="middle">
  <text x="956" y="1365">0.00</text><text x="1033" y="1365">0.05</text><text x="1111" y="1365">0.10</text><text x="1188" y="1365">0.15</text><text x="1266" y="1365">0.20</text>
</g>
<text x="1127" y="1382" font-size="18" class="b" text-anchor="middle">Time (s)</text>
<text transform="translate(916,1193) rotate(-90)" font-size="17" class="b" text-anchor="middle">Voltage (V)</text>
<polyline fill="none" stroke="#000" stroke-width="2.2" stroke-linejoin="round" points="1033,1242 1040,1242 1050,1242 1058,1241 1063,1239 1066,1234 1068,1222 1070,1200 1073,1165 1076,1135 1078,1120 1079,1118 1080,1125 1082,1150 1085,1185 1088,1212 1091,1230 1094,1240 1097,1243 1103,1244 1115,1245 1130,1246 1140,1248 1145,1251 1150,1260 1155,1276 1160,1295 1163,1305 1166,1300 1172,1282 1178,1265 1184,1252 1190,1245 1196,1240 1205,1239 1220,1238 1232,1237 1239,1238"/>
<g font-size="17" class="b">
  <text x="1163" y="1102">Recovery Time</text><text x="1163" y="1124">17 ms</text>
  <text x="963" y="1278">Response Time</text><text x="963" y="1300">10 ms</text>
</g>
<g>
  <rect x="981" y="1084" width="4" height="7" fill="url(#gArrDn)"/><polygon points="978,1090 988,1090 983,1097" fill="#a0c0ff"/>
  <rect x="1010" y="1084" width="4" height="7" fill="url(#gArrDn)"/><polygon points="1007,1090 1017,1090 1012,1097" fill="#a0c0ff"/>
  <rect x="1039" y="1084" width="4" height="7" fill="url(#gArrDn)"/><polygon points="1036,1090 1046,1090 1041,1097" fill="#a0c0ff"/>
  <polygon points="975,1128 1000,1146 1053,1134 1053,1144 1000,1152 975,1136" fill="#2a8a7a"/>
  <polygon points="975,1120 1000,1134 1053,1124 1053,1136 1000,1146 975,1130" fill="#4a74b0"/>
  <polygon points="975,1108 1030,1102 1053,1108 1053,1118 1000,1126 975,1116" fill="#e83840"/>
  <polygon points="975,1108 1030,1102 1053,1108 1000,1113" fill="#f05a5a"/>
</g>
<g>
  <rect x="1210" y="1252" width="4" height="8" fill="url(#gArrUp)"/><polygon points="1207,1253 1217,1253 1212,1246" fill="#e04050"/>
  <rect x="1238" y="1252" width="4" height="8" fill="url(#gArrUp)"/><polygon points="1235,1253 1245,1253 1240,1246" fill="#e04050"/>
  <rect x="1266" y="1252" width="4" height="8" fill="url(#gArrUp)"/><polygon points="1263,1253 1273,1253 1268,1246" fill="#e04050"/>
  <polygon points="1199,1266 1280,1265 1280,1275 1225,1282 1199,1276" fill="#e83840"/>
  <polygon points="1200,1300 1226,1316 1278,1306 1278,1314 1226,1322 1200,1307" fill="#2a8a7a"/>
  <polygon points="1200,1290 1250,1284 1278,1292 1278,1306 1226,1314 1200,1302" fill="#4a74b0"/>
  <g stroke="#2a4a80" stroke-width="1.5"><path d="M1208,1292v-4M1218,1291v-4M1228,1290v-4M1238,1289v-4M1248,1288v-4M1258,1289v-4M1268,1291v-4M1214,1298v-4M1224,1297v-4M1234,1296v-4M1244,1295v-4M1254,1294v-4M1264,1294v-4"/></g>
</g>
</svg>
</body></html>
